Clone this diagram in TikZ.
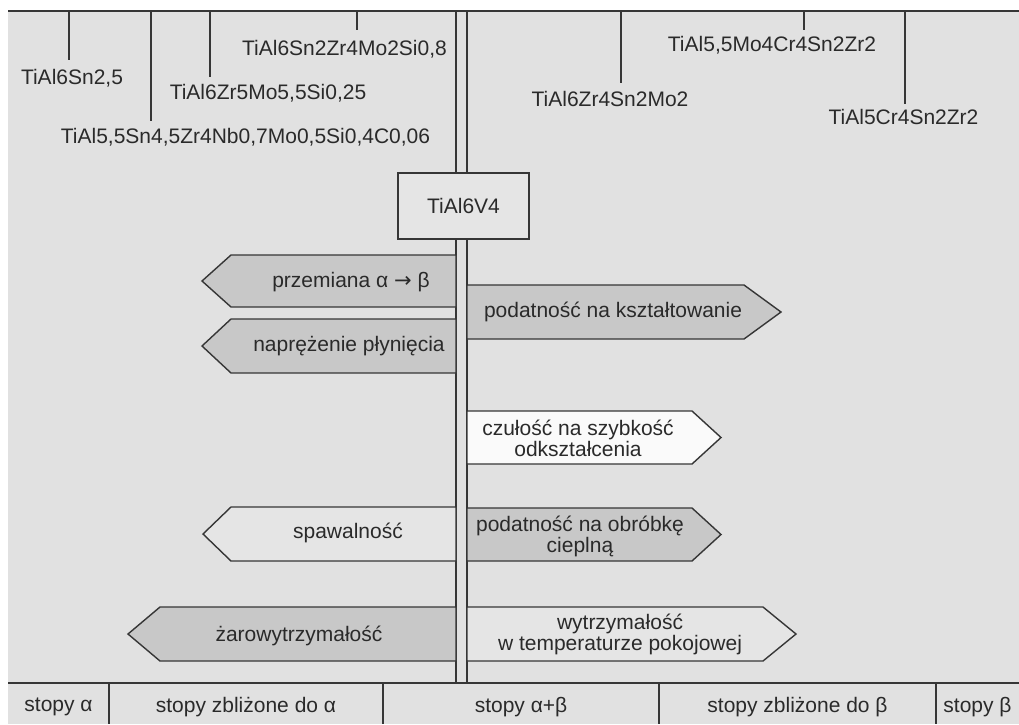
\documentclass[tikz,border=0pt]{standalone}
\usepackage{fontspec}
\setmainfont{Liberation Sans}
\newfontfamily\symfont{DejaVu Sans}
\definecolor{bg}{HTML}{E1E1E1}
\definecolor{dk}{HTML}{C8C8C8}
\definecolor{lt}{HTML}{E5E5E5}
\definecolor{wh}{HTML}{FAFAFA}
\definecolor{ln}{HTML}{363636}
\definecolor{tx}{HTML}{2A2A2A}
\newcommand\LeftSign[5]{%
  \path[sign, fill=#5] (456,#1) -- (#4,#1) -- (#3,{(#1+#2)/2}) -- (#4,#2) -- (456,#2) -- cycle;}
\newcommand\RightSign[5]{%
  \path[sign, fill=#5] (467,#1) -- (#4,#1) -- (#3,{(#1+#2)/2}) -- (#4,#2) -- (467,#2) -- cycle;}
\begin{document}
\begin{tikzpicture}[x=1pt,y=-1pt,
  lbl/.style={text=tx, font=\fontsize{21}{21}\selectfont, inner sep=0pt, align=center},
  sign/.style={draw=ln, line width=1.4pt, line join=miter},
  rule/.style={draw=ln, line width=1.4pt}]
\useasboundingbox (0,0) rectangle (1019,724);
% background
\fill[bg] (8,11) rectangle (1019,724);
\draw[rule] (8,11) -- (1019,11);
% post
\draw[rule] (456,11) -- (456,683);
\draw[rule] (467,11) -- (467,683);
% composition labels
\node[lbl] (c1) at (72,78) {TiAl6Sn2,5};
\node[lbl] (c2) at (245.5,137) {TiAl5,5Sn4,5Zr4Nb0,7Mo0,5Si0,4C0,06};
\node[lbl] (c3) at (268,93) {TiAl6Zr5Mo5,5Si0,25};
\node[lbl] (c4) at (344.5,49) {TiAl6Sn2Zr4Mo2Si0,8};
\node[lbl] (c5) at (610,99) {TiAl6Zr4Sn2Mo2};
\node[lbl] (c6) at (772,45) {TiAl5,5Mo4Cr4Sn2Zr2};
\node[lbl] (c7) at (903.5,117) {TiAl5Cr4Sn2Zr2};
\foreach \n/\x/\b in {1/69/60, 2/151/121, 3/210/77, 4/357/30, 5/621/83, 6/804/30, 7/905/104}{
  \coordinate (t\n) at (\x,11);
  \coordinate (b\n) at (\x,\b);
  \draw[rule] (t\n) -- (b\n);
}
% signs
\LeftSign{255}{307}{202}{231}{dk}
\LeftSign{319}{373}{202}{231}{dk}
\RightSign{285}{339}{781}{744}{dk}
\RightSign{411}{464}{721}{692}{wh}
\LeftSign{507}{561}{203}{231}{lt}
\RightSign{508}{561}{721}{692}{dk}
\LeftSign{607}{661}{128}{160}{dk}
\RightSign{607}{661}{796}{763}{lt}
% central box
\node[draw=ln, line width=1.4pt, fill=lt, minimum width=131pt, minimum height=66pt, inner sep=0pt] (box) at (463.5,206) {};
\node[lbl] (boxt) at (box.center) {TiAl6V4};
% sign labels
\node[lbl] (s1) at (351,282) {przemiana α {\symfont\fontsize{21}{21}\selectfont →} β};
\node[lbl] (s2) at (349,346) {naprężenie płynięcia};
\node[lbl] (s3) at (613,312) {podatność na kształtowanie};
\node[lbl] (s4) at (578,438) {czułość na szybkość\\odkształcenia};
\node[lbl] (s5) at (348,533) {spawalność};
\node[lbl] (s6) at (580,536) {podatność na obróbkę\\cieplną};
\node[lbl] (s7) at (299,636) {żarowytrzymałość};
\node[lbl] (s8) at (620,634) {wytrzymałość\\w temperaturze pokojowej};
% bottom bar
\draw[rule] (8,683) -- (1019,683);
\foreach \x in {109,383,659,936}{\draw[rule] (\x,683) -- (\x,724);}
\node[lbl] (k1) at (58.5,707) {stopy α};
\node[lbl] (k2) at (246,707) {stopy zbliżone do α};
\node[lbl] (k3) at (521,707) {stopy α+β};
\node[lbl] (k4) at (797.5,707) {stopy zbliżone do β};
\node[lbl] (k5) at (977.5,707) {stopy β};
\end{tikzpicture}
\end{document}
